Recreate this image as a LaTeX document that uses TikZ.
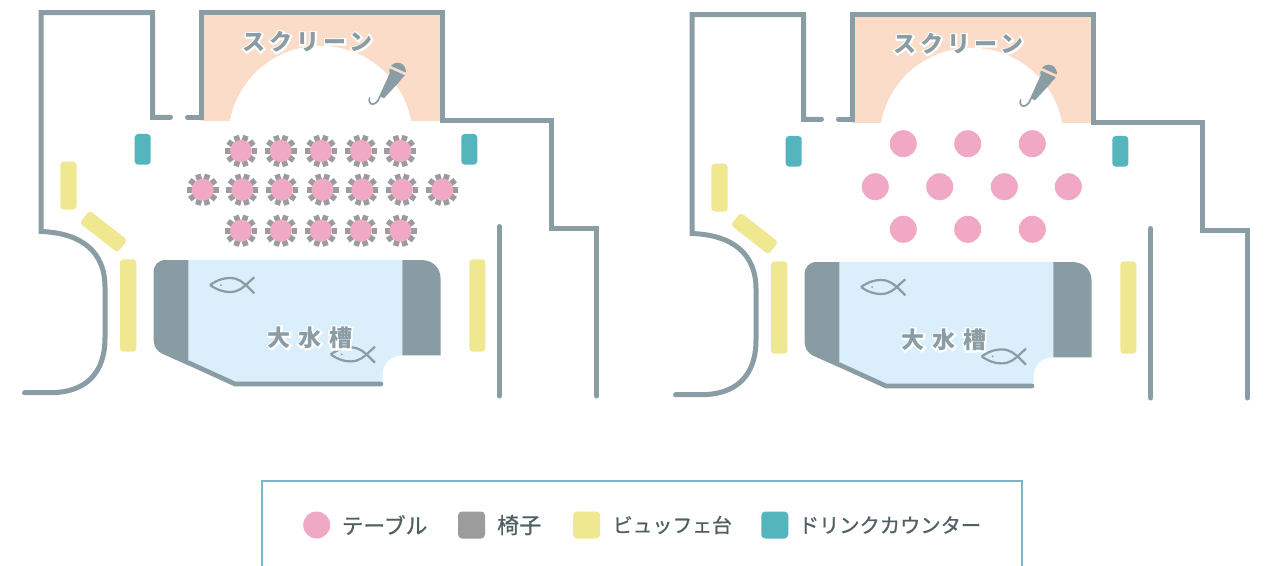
\documentclass[tikz,border=0pt]{standalone}
\usepackage{fontspec}
\newfontfamily\legfont[FakeBold=0.8]{Noto Sans CJK JP}
\newfontfamily\scrfont[LetterSpace=18]{Noto Sans CJK JP}
\newfontfamily\scrhalo[LetterSpace=18,FakeBold=14]{Noto Sans CJK JP}
\newfontfamily\tankfont[LetterSpace=33]{Noto Sans CJK JP}
\newfontfamily\tankhalo[LetterSpace=33,FakeBold=14]{Noto Sans CJK JP}
\definecolor{wallc}{HTML}{8A9DA5}
\definecolor{tankgray}{HTML}{8A9CA3}
\definecolor{peach}{HTML}{FBDCC8}
\definecolor{pinkc}{HTML}{F0A8C5}
\definecolor{yellowc}{HTML}{F0E891}
\definecolor{tealc}{HTML}{55B5BC}
\definecolor{bluec}{HTML}{DAEEFB}
\definecolor{chairc}{HTML}{9C9C9C}
\definecolor{legline}{HTML}{7FB3C8}
\definecolor{legtext}{HTML}{4F5F62}
\def\px{0.75pt}
\tikzset{
  wall/.style={draw=wallc,line width=5*\px,line cap=round,miter limit=10},
  thinwall/.style={draw=wallc,line width=4.7*\px,line cap=round},
  tbl/.style={circle,fill=pinkc,inner sep=0pt,minimum size=#1*\px},
  bar/.style={rectangle,rounded corners=3.5*\px,inner sep=0pt,outer sep=0pt},
  buffet/.style={bar,fill=yellowc},
  drink/.style={bar,fill=tealc},
  swatch/.style={bar,rounded corners=4*\px,minimum size=27*\px},
  fishline/.style={draw=wallc,line width=2.2*\px,line join=round},
  leglabel/.style={anchor=west,inner sep=0pt,text=legtext},
}
\newcommand{\fishat}[2]{%
  \begin{scope}[shift={(#1,#2)}]
    \draw[fishline] (210,285) .. controls (218,279.5) and (224,278) .. (230,278) .. controls (238,278) and (243,282) .. (249,288) -- (254.3,293.3);
    \draw[fishline] (210,285) .. controls (218,290.5) and (224,292) .. (230,292) .. controls (238,292) and (243,288) .. (249,282) -- (254.3,277.3);
    \fill[wallc] (221,285) circle[radius=1];
  \end{scope}}
\newcommand{\halolabel}[6]{% name, x, y, halofont, font, text
  \node[inner sep=0pt,text=white,font=#4\bfseries\fontsize{17.25}{20}\selectfont] at (#2,#3) {#6};
  \node[inner sep=0pt,text=wallc,font=#5\bfseries\fontsize{17.25}{20}\selectfont] (#1) at (#2,#3) {#6};}
\newcommand{\venue}[2]{%
  % screen area
  \fill[peach] (201,12.5) rectangle (442,120.8);
  \fill[white] (320.5,138) circle[radius=92.2];
  % tank
  \fill[bluec] (188.3,260) -- (402.3,260) -- (402.3,355.3) .. controls (390,355.3) and (382.5,364) .. (382.5,375) -- (382.5,384) -- (235,384) -- (188.3,362.7) -- cycle;
  \fill[tankgray] (188.3,260) -- (166,260) .. controls (158,260) and (153.5,265) .. (153.5,273) -- (153.5,336) .. controls (153.5,347) and (156,351) .. (164,354.5) -- (188.3,365.4) -- cycle;
  \fill[tankgray] (402.3,260) -- (421,260) .. controls (433,260) and (440.6,268) .. (440.6,279) -- (440.6,355.3) -- (402.3,355.3) -- cycle;
  \draw[thinwall] (188.3,362.7) -- (235,384) -- (381,384);
  % walls
  \draw[wall] (170.5,117.3) -- (152.7,117.3) -- (152.7,12.5) -- (41,12.5) -- (41,231.5) .. controls (82,233) and (105,252) .. (105,287) -- (105,338) .. controls (105,373) and (86,392.7) .. (50,392.7) -- (24.5,392.7);
  \draw[wall] (187.5,117.3) -- (201,117.3) -- (201,12.5) -- (442,12.5) -- (442,120.3) -- (551,120.3) -- (551,228.5) -- (596.5,228.5) -- (596.5,396);
  \draw[wall] (499.5,226.5) -- (499.5,396);
  % drink counters
  \node[drink,minimum width=16*\px,minimum height=30.7*\px] (#1d1) at (142.7,149.3) {};
  \node[drink,minimum width=16*\px,minimum height=30.7*\px] (#1d2) at (469.3,149.3) {};
  % buffet tables
  \node[buffet,minimum width=16.4*\px,minimum height=47.8*\px] (#1b1) at (68.5,185.6) {};
  \node[buffet,minimum width=48*\px,minimum height=16*\px,rotate=-38] (#1b2) at (103.5,231.5) {};
  \node[buffet,minimum width=16.3*\px,minimum height=92.4*\px] (#1b3) at (128.2,305.5) {};
  \node[buffet,minimum width=16*\px,minimum height=92.4*\px] (#1b4) at (477.3,305.5) {};
  % microphone
  \fill[wallc] (397.6,71) circle[radius=8.3];
  \fill[wallc] (389.6,73.5) -- (405,74.5) -- (398.5,82.7) -- (384,98.3) -- (379.3,96) -- cycle;
  \draw[peach,line width=2.6*\px] (389.5,66.8) -- (406,74.2);
  \draw[wallc,line width=1.7*\px,line cap=round] (380,96.5) .. controls (378,103) and (373,105.5) .. (370.5,103.5) .. controls (369,102) and (369,100) .. (369.5,98);
  % fish
  \fishat{0}{0}
  \fishat{120.7}{69.4}
  % labels
  \halolabel{#1scr}{307.5}{42}{\scrhalo}{\scrfont}{スクリーン}
  \halolabel{#1tank}{#2}{338}{\tankhalo}{\tankfont}{大水槽}
}
\begin{document}
\begin{tikzpicture}[x=0.75pt,y=-0.75pt]
  \useasboundingbox (0,0) rectangle (1265,565);
  \clip (0,0) rectangle (1265,565);
  \fill[white] (0,0) rectangle (1265,565);

  % left plan
  \venue{a}{310}
  \foreach \n/\x/\y in {1/241/151,2/280.7/151,3/321/151,4/361/151,5/400.3/151,
    6/202.7/189.7,7/242.3/189.7,8/282/189.7,9/322.5/189.7,10/362.3/189.7,11/402/189.7,12/442.3/189.7,
    13/241/230.7,14/281/230.7,15/321/230.7,16/361/230.7,17/400.5/230.7}{
    \foreach \a in {0,36,...,324}{
      \fill[chairc,shift={(\x,\y)},rotate=\a] (10.5,-2.8) rectangle (16,2.8);
    }
    \node[tbl=22] (at\n) at (\x,\y) {};
  }

  % right plan
  \begin{scope}[shift={(651,2)}]
    \venue{b}{293}
  \end{scope}
  \foreach \n/\x/\y in {1/903.3/143.7,2/967.7/143.7,3/1032.3/143.7,
    4/875.3/186.7,5/939.7/186.7,6/1004.3/186.7,7/1068.3/186.7,
    8/903.3/229.3,9/967.7/229.3,10/1032.3/229.3}{
    \node[tbl=27] (bt\n) at (\x,\y) {};
  }

  % legend
  \draw[legline,line width=2*\px] (262.3,570) -- (262.3,480.6) -- (1022,480.6) -- (1022,570);
  \node[tbl=27] (k1) at (316.7,525) {};
  \node[leglabel,font=\legfont\fontsize{16.3}{18}\selectfont] (k1t) at (341.5,525) {テーブル};
  \node[swatch,fill=chairc] (k2) at (471.5,525) {};
  \node[leglabel,font=\legfont\fontsize{16.5}{18}\selectfont] (k2t) at (497,525) {椅子};
  \node[swatch,fill=yellowc] (k3) at (586.7,525) {};
  \node[leglabel,font=\legfont\fontsize{14.9}{18}\selectfont] (k3t) at (612.5,525) {ビュッフェ台};
  \node[swatch,fill=tealc] (k4) at (774.8,525) {};
  \node[leglabel,font=\legfont\fontsize{15.2}{18}\selectfont] (k4t) at (798.5,525) {ドリンクカウンター};
\end{tikzpicture}
\end{document}
